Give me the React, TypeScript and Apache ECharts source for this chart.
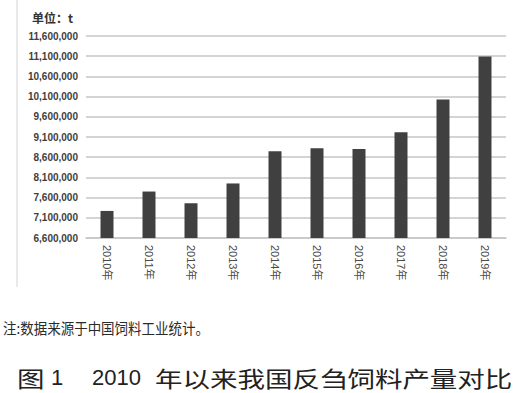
import React, { useEffect, useRef } from "react";
import * as echarts from "echarts";

const categories = ["2010年", "2011年", "2012年", "2013年", "2014年", "2015年", "2016年", "2017年", "2018年", "2019年"];
const production = [7270000, 7750000, 7460000, 7950000, 8750000, 8820000, 8800000, 9220000, 10030000, 11090000];
const yMin = 6600000;
const yMax = 11600000;
const yStep = 500000;
const unitLabel = "单位：t";
const noteText = "注:数据来源于中国饲料工业统计。";
const figLabel = "图";
const figNum = "1";
const titleYear = "2010";
const titleText = "年以来我国反刍饲料产量对比";

export default function App() {
  const ref = useRef<HTMLDivElement>(null);
  useEffect(() => {
    if (!ref.current) return;
    const chart = echarts.init(ref.current, null, { renderer: "svg" });
    const gridColor = "#c6c6c6";
    chart.setOption({
      animation: false,
      backgroundColor: "#ffffff",
      grid: { left: 86, right: 19, top: 36, bottom: 155, containLabel: false },
      xAxis: {
        type: "category",
        data: categories,
        axisLine: { show: true, lineStyle: { color: gridColor, width: 1.5 } },
        axisTick: { show: false },
        axisLabel: {
          rotate: -90,
          margin: 7,
          color: "#4a4a4a",
          fontSize: 11,
          fontFamily: "Liberation Sans, Noto Sans CJK SC, sans-serif",
        },
      },
      yAxis: {
        type: "value",
        min: yMin,
        max: yMax,
        interval: yStep,
        axisLine: { show: false },
        axisTick: { show: false },
        splitLine: { show: true, lineStyle: { color: gridColor, width: 1.5 } },
        axisLabel: {
          margin: 8,
          color: "#404040",
          fontSize: 10,
          fontWeight: "bold",
          fontFamily: "Liberation Sans, sans-serif",
          formatter: (v: number) => v.toLocaleString("en-US"),
        },
      },
      series: [
        {
          type: "bar",
          data: production,
          barWidth: 13,
          itemStyle: { color: "#404040" },
        },
      ],
      graphic: [
        {
          type: "line",
          shape: { x1: 17, y1: 0, x2: 17, y2: 287 },
          style: { stroke: "#d4d4d4", lineWidth: 1 },
        },
        {
          type: "text",
          x: 32,
          y: 17,
          style: {
            text: unitLabel,
            fill: "#333333",
            fontSize: 12,
            fontWeight: "bold",
            fontFamily: "Noto Sans CJK SC, sans-serif",
            verticalAlign: "middle",
          },
        },
        {
          type: "text",
          x: 3,
          y: 327,
          scaleX: 0.9,
          style: {
            text: noteText,
            fill: "#2a2a2a",
            fontSize: 15,
            fontFamily: "Noto Sans CJK SC, sans-serif",
            verticalAlign: "middle",
          },
        },
        {
          type: "text",
          x: 17,
          y: 377,
          scaleX: 1.25,
          style: {
            text: figLabel,
            fill: "#222222",
            fontSize: 22,
            fontFamily: "Noto Sans CJK SC, sans-serif",
            verticalAlign: "middle",
          },
        },
        {
          type: "text",
          x: 51,
          y: 377,
          style: {
            text: figNum,
            fill: "#222222",
            fontSize: 22,
            fontFamily: "Liberation Sans, sans-serif",
            verticalAlign: "middle",
          },
        },
        {
          type: "text",
          x: 92,
          y: 377,
          style: {
            text: titleYear,
            fill: "#222222",
            fontSize: 22,
            fontFamily: "Liberation Sans, sans-serif",
            verticalAlign: "middle",
          },
        },
        {
          type: "text",
          x: 155,
          y: 377,
          scaleX: 1.25,
          style: {
            text: titleText,
            fill: "#222222",
            fontSize: 22,
            fontFamily: "Noto Sans CJK SC, sans-serif",
            verticalAlign: "middle",
          },
        },
      ],
    });
    return () => chart.dispose();
  }, []);
  return (
    <div
      ref={ref}
      style={{ position: "absolute", left: 0, top: 0, width: 525, height: 393 }}
    />
  );
}
